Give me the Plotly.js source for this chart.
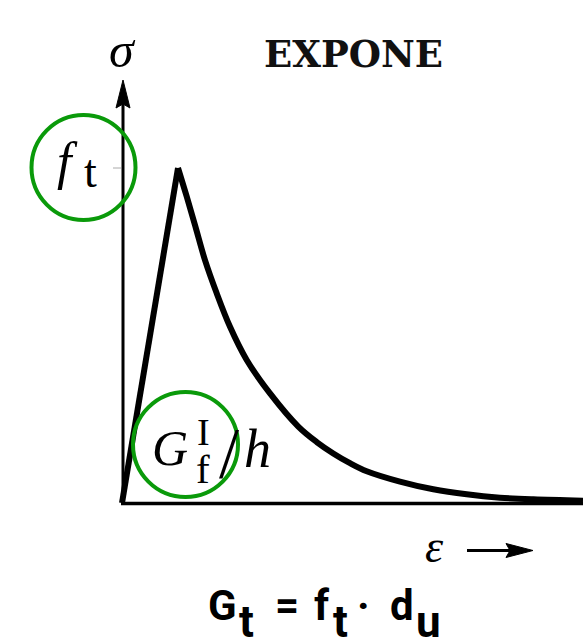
<!DOCTYPE html>
<html>
<head>
<meta charset="utf-8">
<script src="https://cdn.plot.ly/plotly-3.0.1.min.js"></script>
<style>html,body{margin:0;padding:0;background:#fff;}#chart{width:583px;height:643px;}</style>
</head>
<body>
<div id="chart"></div>
<script>
// Data (strain in units of peak strain, stress normalised by f_t)
const riseEps = [0, 1.0];
const riseSig = [0, 1.0];
const softEps = [1.0, 1.155, 1.316, 1.482, 1.691, 1.929, 2.227, 2.643, 3.148, 3.477, 3.773, 4.071, 4.370, 4.964, 5.559, 6.155, 6.750, 7.345, 8.232];
const softSig = [1.0, 0.915, 0.822, 0.725, 0.626, 0.526, 0.427, 0.327, 0.228, 0.182, 0.148, 0.119, 0.095, 0.064, 0.041, 0.026, 0.016, 0.011, 0.007];
const titleText = 'EXPONE';
const ftLevel = 1.0;

// pixel helpers for decorations (plot area = whole figure)
const X0 = 122, SX = 56, Y0 = 503, SY = 335;
const px = p => (p - X0) / SX;
const py = p => (Y0 - p) / SY;

const green = '#0a9a0a';
const serif = 'Liberation Serif, Times New Roman, serif';
const sans = 'Roboto, Arial, sans-serif';

const traces = [
  {x: riseEps, y: riseSig, mode: 'lines', line: {color: '#000', width: 6}, hoverinfo: 'skip'},
  {x: softEps, y: softSig, mode: 'lines', line: {color: '#000', width: 6, shape: 'spline', smoothing: 1}, hoverinfo: 'skip'}
];

const shapes = [
  // x axis
  {type: 'line', x0: px(121), x1: px(583), y0: py(503.5), y1: py(503.5), line: {color: '#000', width: 3.5}},
  // y axis
  {type: 'line', x0: px(123), x1: px(123), y0: py(503), y1: py(100), line: {color: '#000', width: 3}},
  {type: 'path', path: `M ${px(123)},${py(80)} L ${px(116)},${py(108)} L ${px(123)},${py(104)} L ${px(130)},${py(108)} Z`, fillcolor: '#000', line: {color: '#000', width: 1}},
  // f_t tick
  {type: 'line', x0: px(113), x1: px(121), y0: ftLevel, y1: ftLevel, line: {color: '#aaa', width: 1}},
  // epsilon arrow
  {type: 'line', x0: px(467), x1: px(515), y0: py(550.5), y1: py(550.5), line: {color: '#000', width: 3}},
  {type: 'path', path: `M ${px(533)},${py(550.5)} L ${px(506)},${py(543.5)} L ${px(510)},${py(550.5)} L ${px(506)},${py(557.5)} Z`, fillcolor: '#000', line: {color: '#000', width: 1}},
  // green circles
  {type: 'circle', x0: px(31.5), x1: px(135.5), y0: py(220), y1: py(115), line: {color: green, width: 4}},
  {type: 'circle', x0: px(133), x1: px(238), y0: py(497), y1: py(392), line: {color: green, width: 4}}
];

function ann(text, xp, yp, size, family, extra) {
  return {x: px(xp), y: py(yp), text: text, showarrow: false, xanchor: 'center', yanchor: 'middle',
    font: Object.assign({family: family || serif, size: size, color: '#000'}, extra || {})};
}

const annotations = [
  ann('<i>σ</i>', 122, 50, 50),
  ann(titleText, 353.5, 54, 37, 'DejaVu Serif', {color: '#111', weight: 700}),
  ann('<i>f</i>', 67.5, 161, 52),
  ann('t', 90, 171, 46),
  ann('<i>G</i>', 170, 448, 50),
  ann('I', 203.5, 432, 38),
  ann('f', 203, 469, 41),
  ann('/', 229, 453, 72),
  ann('<i>h</i>', 257, 449, 54),
  ann('<i>ε</i>', 434, 546.5, 46),
  // bottom formula G_t = f_t · d_u
  ann('G', 222.5, 605, 42, sans, {weight: 700}),
  ann('t', 246.5, 622, 44, sans, {weight: 700}),
  ann('=', 287, 605, 42, sans, {weight: 700}),
  ann('f', 321.5, 605, 42, sans, {weight: 700}),
  ann('t', 340, 622, 44, sans, {weight: 700}),
  ann('·', 363.5, 605, 42, sans, {weight: 700}),
  ann('d', 401.5, 605, 42, sans, {weight: 700}),
  ann('u', 428.5, 622, 44, sans, {weight: 700})
];

const layout = {
  width: 583, height: 643,
  margin: {l: 0, r: 0, t: 0, b: 0, pad: 0},
  paper_bgcolor: '#fff', plot_bgcolor: '#fff',
  showlegend: false,
  xaxis: {range: [px(0), px(583)], visible: false, fixedrange: true},
  yaxis: {range: [py(643), py(0)], visible: false, fixedrange: true},
  shapes: shapes,
  annotations: annotations
};

Plotly.newPlot('chart', traces, layout, {displayModeBar: false, staticPlot: true});
</script>
</body>
</html>
